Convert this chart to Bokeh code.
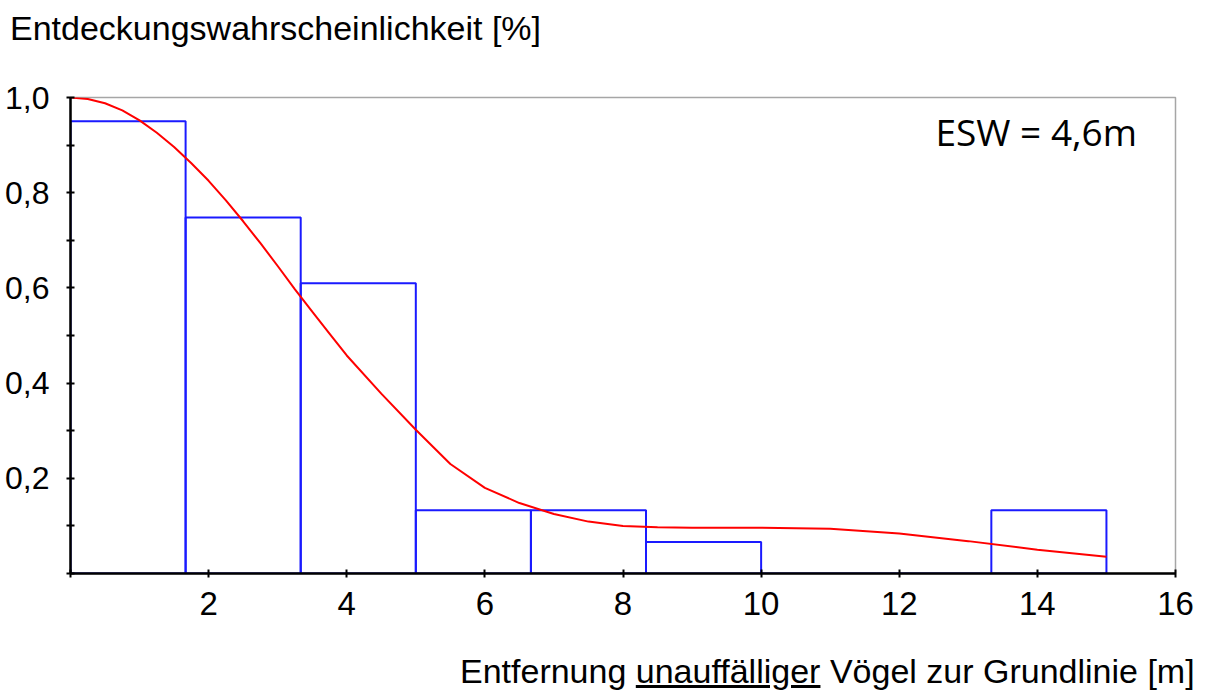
from bokeh.plotting import figure
from bokeh.models import FixedTicker, Label, Range1d, Div
from bokeh.layouts import column
from bokeh.embed import file_html
from bokeh.resources import INLINE

# ---- data ----
bin_edges = [0.0, 5/3, 10/3, 5.0, 20/3, 25/3, 10.0, 35/3, 40/3, 15.0]
bin_values = [0.95, 0.748, 0.61, 0.133, 0.133, 0.066, 0.0, 0.0, 0.133]

curve_x = [0.0, 0.25, 0.5, 0.75, 1.0, 1.25, 1.5, 1.75, 2.0, 2.25, 2.5, 2.75,
           3.0, 3.25, 3.5, 3.75, 4.0, 4.5, 5.0, 5.5, 6.0, 6.5, 7.0, 7.5,
           8.0, 8.5, 9.0, 10.0, 11.0, 12.0, 13.0, 14.0, 15.0]
curve_y = [1.000, 0.997, 0.988, 0.973, 0.952, 0.926, 0.896, 0.862, 0.825,
           0.784, 0.740, 0.694, 0.646, 0.597, 0.550, 0.504, 0.458, 0.378,
           0.302, 0.230, 0.180, 0.148, 0.125, 0.109, 0.100, 0.097, 0.096,
           0.096, 0.094, 0.084, 0.068, 0.050, 0.035]

x_ticks = [0, 2, 4, 6, 8, 10, 12, 14, 16]
x_tick_labels = ["", "2", "4", "6", "8", "10", "12", "14", "16"]
y_ticks = [0.2, 0.4, 0.6, 0.8, 1.0]
y_tick_labels = ["0,2", "0,4", "0,6", "0,8", "1,0"]
y_minor_ticks = [0.0, 0.1, 0.3, 0.5, 0.7, 0.9]

title_text = "Entdeckungswahrscheinlichkeit [%]"
xlabel_html = "Entfernung <u>unauffälliger</u> Vögel zur Grundlinie [m]"
esw_text = "ESW = 4,6m"

# ---- title (y-axis caption above the plot) ----
title_div = Div(
    text=('<div style="font-family: \'Liberation Sans\'; font-size: 34px; '
          'line-height: 34px; color: black; padding-left: 10px; '
          'padding-top: 11px; white-space: nowrap;">' + title_text + '</div>'),
    width=1205, height=50, margin=0)

# ---- figure ----
p = figure(width=1205, height=598, output_backend="svg", toolbar_location=None,
           x_range=Range1d(0, 16), y_range=Range1d(0, 1.0),
           min_border_left=70, min_border_right=30, min_border_top=47,
           min_border_bottom=75)
p.xgrid.visible = False
p.ygrid.visible = False
p.outline_line_color = "#a6a6a6"
p.outline_line_width = 1.5
p.background_fill_color = "white"
p.border_fill_color = "white"

p.quad(left=bin_edges[:-1], right=bin_edges[1:], bottom=0, top=bin_values,
       fill_color=None, line_color="#1a1aff", line_width=2)
p.line(curve_x, curve_y, line_color="#ff0000", line_width=2)

for ax in (p.xaxis[0], p.yaxis[0]):
    ax.axis_line_color = "black"
    ax.axis_line_width = 2.5
    ax.major_tick_line_color = "black"
    ax.major_tick_line_width = 2
    ax.minor_tick_line_color = "black"
    ax.minor_tick_line_width = 2
    ax.major_tick_in = 4
    ax.major_tick_out = 4
    ax.minor_tick_in = 4
    ax.minor_tick_out = 4
    ax.major_label_text_font = "Liberation Sans"
    ax.major_label_text_color = "black"

p.xaxis.ticker = FixedTicker(ticks=x_ticks, minor_ticks=[])
p.xaxis.major_label_overrides = {t: l for t, l in zip(x_ticks, x_tick_labels)}
p.xaxis.major_label_text_font_size = "33px"
p.xaxis.major_label_standoff = 14

p.yaxis.ticker = FixedTicker(ticks=y_ticks, minor_ticks=y_minor_ticks)
p.yaxis.major_label_overrides = {t: l for t, l in zip(y_ticks, y_tick_labels)}
p.yaxis.major_label_text_font_size = "32px"
p.yaxis.major_label_standoff = 17

p.add_layout(Label(x=865, y=442, x_units="screen", y_units="screen",
                   text=esw_text, text_font="Open Sans", text_font_size="37px",
                   text_baseline="alphabetic", text_color="black"))

# ---- x-axis caption below the plot ----
xlabel_div = Div(
    text=('<div style="font-family: \'Liberation Sans\'; font-size: 34px; '
          'line-height: 34px; color: black; padding-left: 460px; '
          'padding-top: 6px; white-space: nowrap;">' + xlabel_html + '</div>'),
    width=1205, height=44, margin=0)

layout = column(title_div, p, xlabel_div, spacing=0)
open("out.html", "w").write(file_html(layout, INLINE))
